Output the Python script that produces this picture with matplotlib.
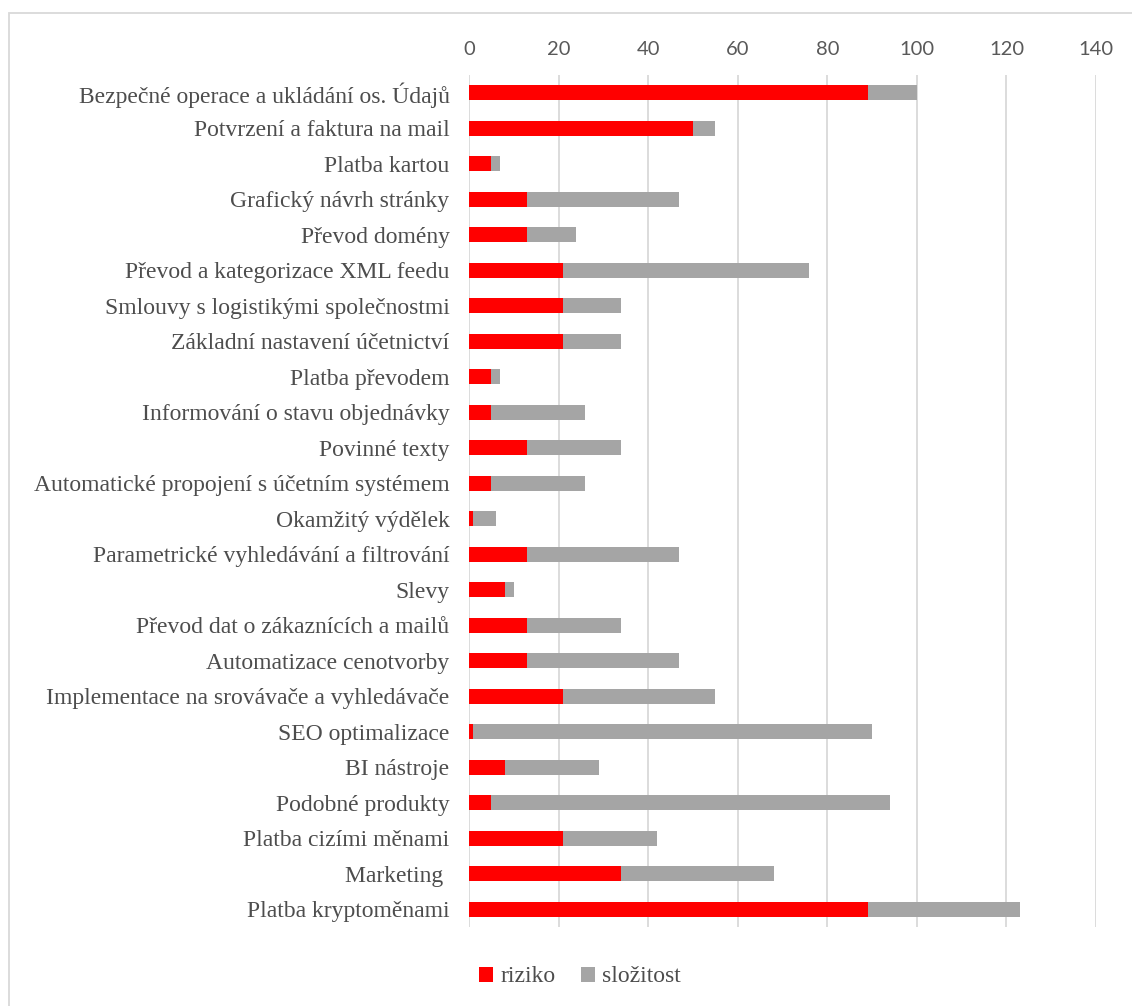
import numpy as np
import matplotlib
matplotlib.use('Agg')
import matplotlib.pyplot as plt
from matplotlib.patches import Rectangle

# data (top to bottom)
kategorie = [
    "Bezpečné operace a ukládání os. Údajů",
    "Potvrzení a faktura na mail",
    "Platba kartou",
    "Grafický návrh stránky",
    "Převod domény",
    "Převod a kategorizace XML feedu",
    "Smlouvy s logistikými společnostmi",
    "Základní nastavení účetnictví",
    "Platba převodem",
    "Informování o stavu objednávky",
    "Povinné texty",
    "Automatické propojení s účetním systémem",
    "Okamžitý výdělek",
    "Parametrické vyhledávání a filtrování",
    "Slevy",
    "Převod dat o zákaznících a mailů",
    "Automatizace cenotvorby",
    "Implementace na srovávače a vyhledávače",
    "SEO optimalizace",
    "BI nástroje",
    "Podobné produkty",
    "Platba cizími měnami",
    "Marketing ",
    "Platba kryptoměnami",
]
riziko = [89, 50, 5, 13, 13, 21, 21, 21, 5, 5, 13, 5, 1, 13, 8, 13, 13, 21, 1, 8, 5, 21, 34, 89]
slozitost = [11, 5, 2, 34, 11, 55, 13, 13, 2, 21, 21, 21, 5, 34, 2, 21, 34, 34, 89, 21, 89, 21, 34, 34]
x_ticks = [0, 20, 40, 60, 80, 100, 120, 140]

W, H = 1132, 1006
fig = plt.figure(figsize=(W / 100, H / 100), dpi=100)
ax = fig.add_axes([469 / W, 1 - 927 / H, (1096 - 469) / W, (927 - 75) / H])

y = np.arange(len(kategorie))
ax.barh(y, riziko, height=0.42, color='#ff0000', label='riziko', zorder=3)
ax.barh(y, slozitost, left=riziko, height=0.42, color='#a5a5a5', label='složitost', zorder=3)

ax.set_ylim(len(kategorie) - 0.5, -0.5)
ax.set_xlim(0, 140)
ax.set_xticks(x_ticks)
ax.xaxis.tick_top()
ax.tick_params(axis='x', length=0, pad=12, labelsize=14.5, labelcolor='#595959')
for t in ax.get_xticklabels():
    t.set_family(['Lato', 'DejaVu Sans'])
ax.set_yticks(y)
ax.set_yticklabels(kategorie, family=['Liberation Serif', 'DejaVu Serif'], fontsize=17, color='#4d4d4d')
ax.tick_params(axis='y', length=0, pad=14)
ax.grid(axis='x', color='#d9d9d9', linewidth=1.3, zorder=0)
for s in ax.spines.values():
    s.set_visible(False)

leg = fig.legend(loc='center', bbox_to_anchor=(580 / W, 1 - 977 / H), ncol=2, frameon=False,
                 prop={'family': ['Liberation Serif', 'DejaVu Serif'], 'size': 17},
                 handlelength=0.6, handleheight=0.6, handletextpad=0.3, columnspacing=1.1)
for t in leg.get_texts():
    t.set_color('#4d4d4d')

# outer chart border (only top/left visible in the crop)
fig.patches.append(Rectangle((8.5 / W, -0.1), 1.2, 1 - 13.5 / H + 0.1, transform=fig.transFigure,
                             fill=False, edgecolor='#d9d9d9', linewidth=1.3))

fig.savefig('out.png', dpi=100)
